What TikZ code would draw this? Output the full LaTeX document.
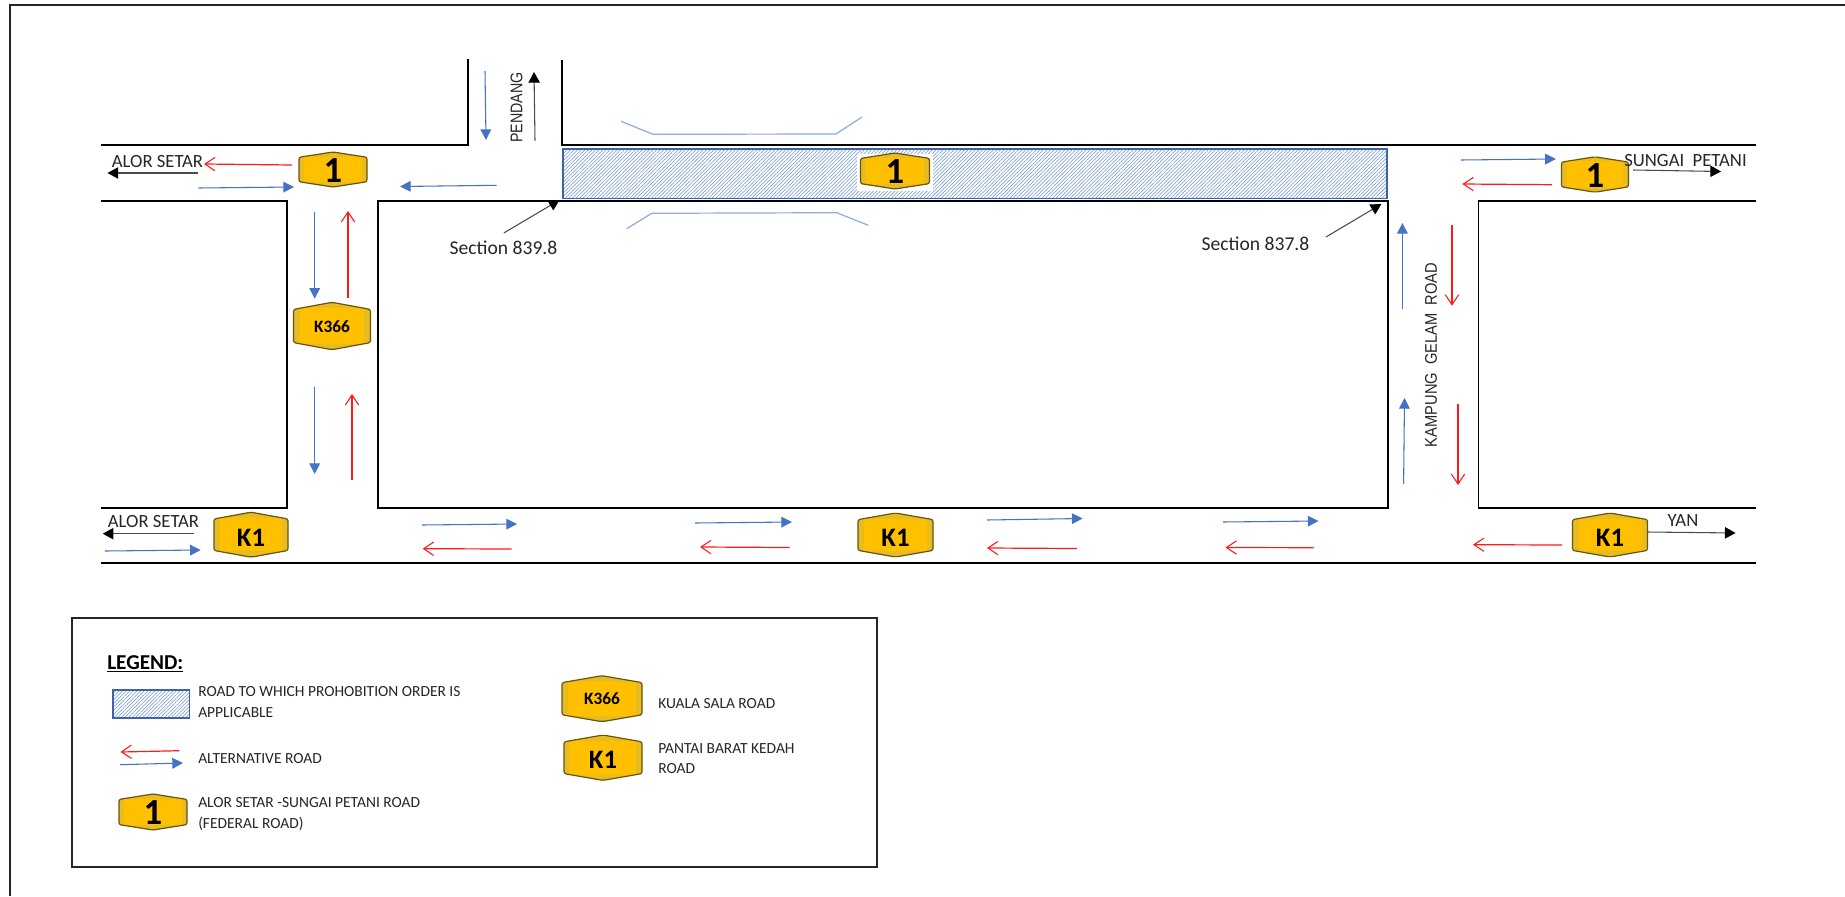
\documentclass[tikz,border=0pt]{standalone}
\usepackage{fontspec}
\setmainfont{Carlito}
\newfontfamily\arialish{Liberation Sans}
\usetikzlibrary{arrows.meta,patterns.meta}
\definecolor{sblue}{HTML}{4472C4}
\definecolor{hblue}{HTML}{6F93D6}
\definecolor{dblue}{HTML}{3F62A8}
\definecolor{lblue}{HTML}{8FAADC}
\definecolor{sred}{HTML}{FF1A1A}
\definecolor{sgold}{HTML}{FFC000}
\definecolor{sband}{HTML}{E6BC20}
\definecolor{sedge}{HTML}{6B5410}
\tikzset{
  road/.style={black,line width=1.2pt,line cap=rect},
  frameline/.style={draw=black!85,line width=1.6pt},
  bluearrow/.style={draw=sblue,line width=.8pt,-{Triangle[length=8pt,width=8pt,color=sblue,fill=sblue]}},
  redarrow/.style={draw=sred,line width=.9pt,-{Straight Barb[length=7.5pt,width=10pt,line width=.8pt]}},
  blackarrow/.style={draw=black!70,line width=.8pt,-{Triangle[length=8pt,width=8.5pt,color=black,fill=black]}},
  bracket/.style={draw=lblue,line width=.9pt},
  hatched/.style={draw=dblue,line width=1.3pt,pattern={Lines[angle=45,distance=1.9pt,line width=.4pt]},pattern color=hblue},
  roadlabel/.style={inner sep=0pt,text depth=0pt,font=\fontsize{14pt}{15pt}\selectfont,text=black!85},
  seclabel/.style={inner sep=0pt,text depth=0pt,font=\fontsize{14.7pt}{16pt}\selectfont,text=black!85},
  legtext/.style={inner sep=0pt,anchor=west,align=left,font=\fontsize{11.6pt}{15.5pt}\selectfont,text=black!85},
  rotlabel/.style={inner sep=0pt,text depth=0pt,rotate=90,font=\arialish\fontsize{11pt}{12pt}\selectfont,text=black!85},
}
% name, cx, cy, half width, half height, font size, text drop, text
\newcommand\roadsign[8]{%
  \fill[sband,rounded corners=1.6pt] ({#2-#4},{#3-0.7*#5}) -- (#2,{#3-#5}) -- ({#2+#4},{#3-0.7*#5}) -- ({#2+#4},{#3+0.7*#5}) -- (#2,{#3+#5}) -- ({#2-#4},{#3+0.7*#5}) -- cycle;
  \fill[sgold] ({#2-0.84*#4},{#3-0.74*#5}) rectangle ({#2+0.84*#4},{#3+0.74*#5});
  \draw[sedge,line width=.9pt,rounded corners=1.6pt] ({#2-#4},{#3-0.7*#5}) -- (#2,{#3-#5}) -- ({#2+#4},{#3-0.7*#5}) -- ({#2+#4},{#3+0.7*#5}) -- (#2,{#3+#5}) -- ({#2-#4},{#3+0.7*#5}) -- cycle;
  \node[inner sep=0pt,text depth=0pt,font=\bfseries\fontsize{#6pt}{#6pt}\selectfont] (#1) at (#2,{#3+#7}) {#8};
}
\begin{document}
\begin{tikzpicture}[x=.75pt,y=-.75pt]
\useasboundingbox (0,0) rectangle (1845,896);
\fill[white] (0,0) rectangle (1845,896);
% page frame
\draw[frameline] (10,896) -- (10,5) -- (1845,5);
% roads
\draw[road] (102,145) -- (468,145) -- (468,60);
\draw[road] (562,61) -- (562,145) -- (1755,145);
\draw[road] (102,201) -- (287,201) -- (287,508) -- (102,508);
\draw[road] (378,201) rectangle (1388,508);
\draw[road] (1755,201) -- (1478.5,201) -- (1478.5,508) -- (1755,508);
\draw[road] (102,563) -- (1755,563);
% prohibited section
\draw[hatched] (563,149) rectangle (1387,198.5);
\fill[white] (857,154) rectangle (933,191);
\draw[bracket] (621,121.3) -- (653,134.3) -- (836,134) -- (862,117);
\draw[bracket] (626.7,228.7) -- (651.7,213.3) -- (836.7,212.7) -- (868.3,225.3);
% signs
\roadsign{s1a}{333}{169.5}{34}{17.5}{27.6}{1}{1}
\roadsign{sk366}{332}{326}{38.5}{23.7}{13}{1}{K366}
\roadsign{sk1a}{251}{534.7}{37}{22.5}{20}{3}{K1}
\roadsign{s1b}{895}{171}{34.5}{18}{27.6}{1}{1}
\roadsign{sk1b}{895.5}{535}{37.5}{22}{20}{3}{K1}
\roadsign{s1c}{1595}{174.5}{33.5}{17.7}{27.6}{1}{1}
\roadsign{sk1c}{1610}{535}{37.5}{22}{20}{3}{K1}
% top left arrows
\draw[redarrow] (292,165) -- (204,164);
\draw[blackarrow] (198,173) -- (107.5,173);
\draw[bluearrow] (198.5,188) -- (294,187);
\draw[bluearrow] (496.6,185.3) -- (400,186.5);
\draw[bluearrow] (485,71) -- (486,140);
\draw[blackarrow] (535,140.7) -- (534,72);
% K366 road
\draw[bluearrow] (314.7,212) -- (314.7,298.7);
\draw[redarrow] (348,298) -- (348,211);
\draw[bluearrow] (314.7,387) -- (314.7,474);
\draw[redarrow] (352,480) -- (352,394);
% bottom road
\draw[blackarrow] (194,533.7) -- (102.7,533.7);
\draw[bluearrow] (105,551) -- (200.7,550);
\draw[bluearrow] (422,525) -- (517,524);
\draw[redarrow] (511.7,549) -- (422.7,548.7);
\draw[bluearrow] (695,523) -- (792,522);
\draw[redarrow] (789.6,547.5) -- (700,547);
\draw[bluearrow] (987,520) -- (1082.6,518.5);
\draw[redarrow] (1077,548.5) -- (987,548);
\draw[bluearrow] (1223,522) -- (1318.5,521);
\draw[redarrow] (1313.5,547.7) -- (1225.5,547.5);
\draw[redarrow] (1562,545) -- (1473,544.7);
\draw[blackarrow] (1647.5,532) -- (1735.6,533);
% top right
\draw[bluearrow] (1460.8,160) -- (1555.8,159);
\draw[redarrow] (1552,184.7) -- (1462.4,184);
\draw[blackarrow] (1633,170) -- (1721,171.5);
% Kampung Gelam
\draw[bluearrow] (1402.4,309) -- (1402.4,223);
\draw[redarrow] (1452,225) -- (1452,305.7);
\draw[bluearrow] (1403.6,484) -- (1404.5,398);
\draw[redarrow] (1458,404) -- (1458,485);
% section labels
\node[seclabel] (sec839) at (503.5,248) {Section 839.8};
\node[seclabel] (sec837) at (1255.5,244) {Section 837.8};
\coordinate (end839) at (559.5,200);
\coordinate (end837) at (1381.4,204);
\draw[blackarrow] (503.8,233) -- (end839);
\draw[blackarrow] (1326,237) -- (end837);
% labels
\node[roadlabel] (alor1) at (157.5,161) {ALOR SETAR};
\node[roadlabel] (alor2) at (153.5,521) {ALOR SETAR};
\node[roadlabel] (sungai) at (1685.5,160) {SUNGAI\ \ PETANI};
\node[roadlabel] (yan) at (1683,521) {YAN};
\node[rotlabel] (pendang) at (516.4,107.5) {\scalebox{.97}[1.15]{PENDANG}};
\node[rotlabel] (kampung) at (1431,355) {\scalebox{1}[1.15]{KAMPUNG\ \ GELAM\ \ ROAD}};
% legend
\draw[draw=black!85,line width=1.5pt] (71.8,618) rectangle (876.8,866.7);
\node[inner sep=0pt,anchor=west,text depth=0pt,font=\bfseries\fontsize{15.9pt}{17pt}\selectfont] (legend) at (107,662.7) {\underline{LEGEND:}};
\draw[hatched] (113,690) rectangle (189.6,718);
\node[legtext] (lt1) at (198,702) {ROAD TO WHICH PROHOBITION ORDER IS\\APPLICABLE};
\draw[redarrow] (179.4,750.7) -- (120.5,752);
\draw[bluearrow] (120,764.7) -- (183,763);
\node[legtext] (lt2) at (198,759) {ALTERNATIVE ROAD};
\roadsign{ls1}{153}{812}{34}{18}{27.6}{1}{1}
\node[legtext] (lt3) at (198,814) {ALOR SETAR -SUNGAI PETANI ROAD\\(FEDERAL ROAD)};
\roadsign{lsk366}{602}{698.7}{40}{23}{13}{0}{K366}
\node[legtext] (lt4) at (658,703.7) {KUALA SALA ROAD};
\roadsign{lsk1}{603}{757.7}{39}{22.7}{20}{2}{K1}
\node[legtext] (lt5) at (658,758.5) {PANTAI BARAT KEDAH\\ROAD};
\end{tikzpicture}
\end{document}
